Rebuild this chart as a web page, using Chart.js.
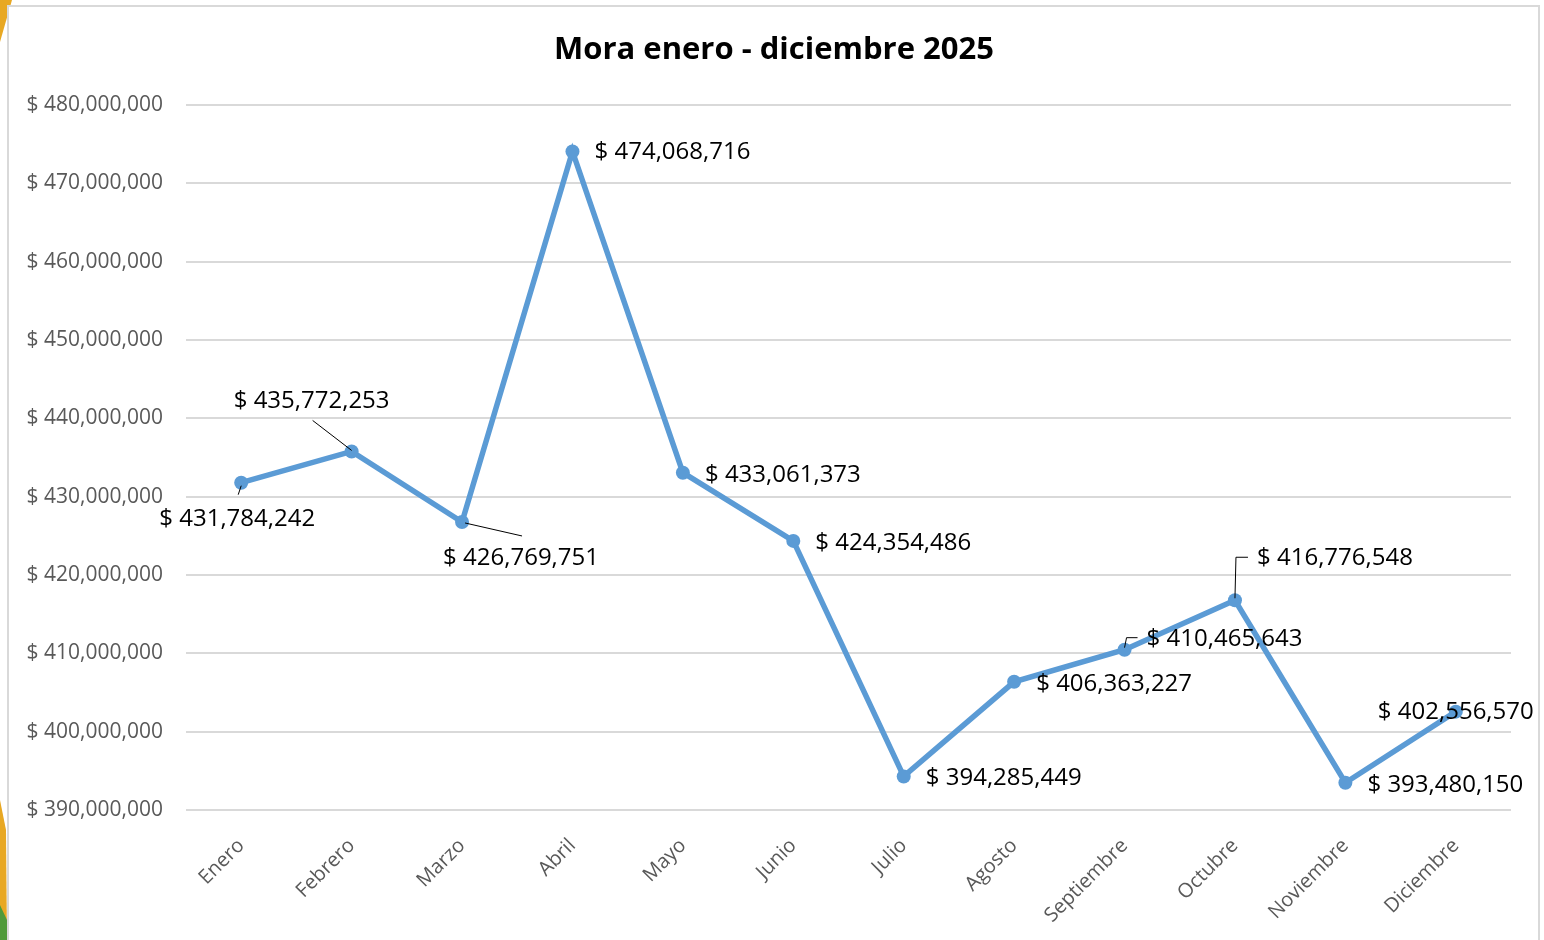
<!DOCTYPE html>
<html lang="es">
<head>
<meta charset="utf-8">
<title>Mora enero - diciembre 2025</title>
<script src="https://cdn.jsdelivr.net/npm/chart.js@4.4.1/dist/chart.umd.min.js"></script>
<style>
    html, body { margin: 0; padding: 0; background: #ffffff; }
    #moraChart { display: block; }
</style>
</head>
<body>
<canvas id="moraChart" width="1544" height="940"></canvas>
<script>
// datos del gráfico
const meses = ['Enero', 'Febrero', 'Marzo', 'Abril', 'Mayo', 'Junio', 'Julio', 'Agosto', 'Septiembre', 'Octubre', 'Noviembre', 'Diciembre'];
const mora = [431784242, 435772253, 426769751, 474068716, 433061373, 424354486, 394285449, 406363227, 410465643, 416776548, 393480150, 402556570];
const ejeMin = 390000000;
const ejeMax = 480000000;
const ejePaso = 10000000;

// ubicación de cada etiqueta respecto a su punto (centro del texto)
const etiquetaDx = [-4, -40, 59, 100, 100, 100, 100, 100, 100, 100, 100, 0];
const etiquetaDy = [36, -50, 36, 1, 2, 2, 2, 2, -11, -42, 2, 1];
// líneas guía (puntos relativos al marcador)
const guias = {
    0: [[-3, 12], [0, 3]],
    1: [[-39, -31], [0, -1]],
    2: [[3, 1], [60, 14]],
    8: [[0, -2], [2, -12], [13, -12]],
    9: [[0, -2], [1, -43], [13, -43]]
};

const fuente = "'Open Sans', 'Noto Sans', sans-serif";
const formatoPesos = v => '$ ' + Number(v).toLocaleString('en-US');

const pluginFondo = {
    id: 'fondo',
    beforeDraw(chart) {
        const ctx = chart.ctx;
        ctx.save();
        // restos de la imagen de fondo en el borde izquierdo
        ctx.fillStyle = '#e8a823';
        ctx.beginPath();
        ctx.moveTo(0, 0); ctx.lineTo(12, 0); ctx.lineTo(0, 42); ctx.closePath();
        ctx.fill();
        ctx.beginPath();
        ctx.moveTo(0, 800); ctx.lineTo(6, 830); ctx.lineTo(7, 940); ctx.lineTo(0, 940); ctx.closePath();
        ctx.fill();
        ctx.fillStyle = '#4f9a3a';
        ctx.beginPath();
        ctx.moveTo(0, 905); ctx.lineTo(7, 920); ctx.lineTo(7, 940); ctx.lineTo(0, 940); ctx.closePath();
        ctx.fill();
        // marco del gráfico
        ctx.fillStyle = '#ffffff';
        ctx.fillRect(8, 6, 1531, 940);
        ctx.strokeStyle = '#d9d9d9';
        ctx.lineWidth = 2;
        ctx.strokeRect(8, 6, 1531, 960);
        // título
        ctx.fillStyle = '#000000';
        ctx.font = 'bold 31px ' + fuente;
        ctx.textAlign = 'center';
        ctx.textBaseline = 'middle';
        ctx.fillText('Mora enero - diciembre 2025', 774, 50);
        ctx.restore();
    }
};

const pluginEtiquetas = {
    id: 'etiquetas',
    afterDatasetsDraw(chart) {
        const ctx = chart.ctx;
        const puntos = chart.getDatasetMeta(0).data;
        ctx.save();
        // líneas guía
        ctx.strokeStyle = '#000000';
        ctx.lineWidth = 1;
        Object.keys(guias).forEach(i => {
            const p = puntos[i];
            const tramo = guias[i];
            ctx.beginPath();
            tramo.forEach((q, k) => {
                if (k === 0) ctx.moveTo(p.x + q[0], p.y + q[1]);
                else ctx.lineTo(p.x + q[0], p.y + q[1]);
            });
            ctx.stroke();
        });
        // textos
        ctx.fillStyle = '#000000';
        ctx.font = '24px ' + fuente;
        ctx.textAlign = 'center';
        ctx.textBaseline = 'middle';
        puntos.forEach((p, i) => {
            ctx.fillText(formatoPesos(mora[i]), p.x + etiquetaDx[i], p.y + etiquetaDy[i]);
        });
        ctx.restore();
    }
};

new Chart(document.getElementById('moraChart'), {
    type: 'line',
    data: {
        labels: meses,
        datasets: [{
            label: 'Mora',
            data: mora,
            borderColor: '#5b9bd5',
            backgroundColor: '#5b9bd5',
            borderWidth: 5.5,
            tension: 0,
            fill: false,
            pointRadius: 7,
            pointBorderWidth: 0,
            pointBackgroundColor: '#5b9bd5'
        }]
    },
    options: {
        responsive: false,
        animation: false,
        layout: { padding: { top: 105, right: 33, left: 0, bottom: 0 } },
        plugins: {
            legend: { display: false },
            title: { display: false },
            tooltip: { enabled: false }
        },
        scales: {
            x: {
                offset: true,
                grid: { display: false },
                border: { display: false },
                ticks: {
                    color: '#595959',
                    font: { family: fuente, size: 20 },
                    maxRotation: 45,
                    minRotation: 45,
                    autoSkip: false,
                    padding: 16
                },
                afterFit: scale => { scale.height = 130; }
            },
            y: {
                min: ejeMin,
                max: ejeMax,
                grid: { color: '#d9d9d9', lineWidth: 2, drawTicks: false },
                border: { display: false },
                ticks: {
                    stepSize: ejePaso,
                    color: '#595959',
                    font: { family: fuente, size: 21 },
                    padding: 23,
                    callback: v => formatoPesos(v)
                },
                afterFit: scale => { scale.width = 186; }
            }
        }
    },
    plugins: [pluginFondo, pluginEtiquetas]
});
</script>
</body>
</html>
